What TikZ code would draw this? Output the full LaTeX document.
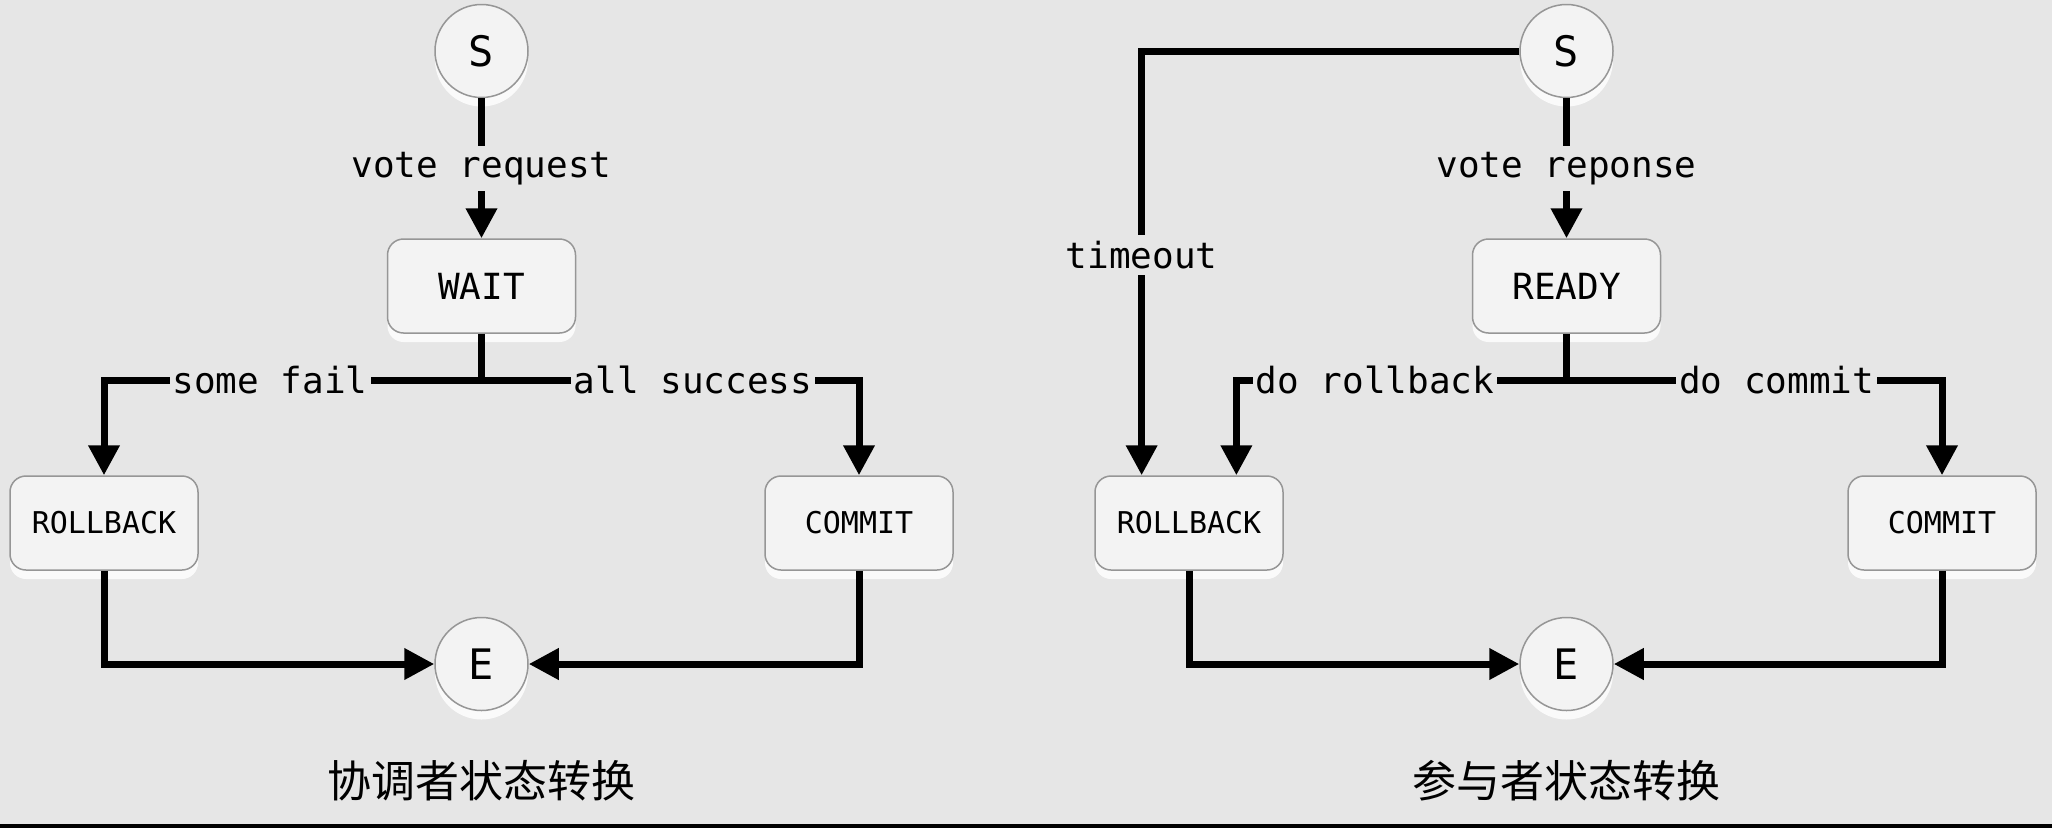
\documentclass[tikz,border=0pt]{standalone}
\usepackage{fontspec}
\setmonofont{DejaVu Sans Mono}
\newfontfamily\cjk{Noto Sans CJK SC}
\usetikzlibrary{arrows.meta,shadows,calc}
\definecolor{bgGray}{RGB}{230,230,230}
\definecolor{boxFill}{RGB}{243,243,243}
\definecolor{boxLine}{RGB}{150,150,150}

\begin{document}
\begin{tikzpicture}[x=1pt,y=-1pt,
	glow/.style={drop shadow={shadow xshift=0pt,shadow yshift=-9pt,fill=white,opacity=0.8}},
	state/.style={circle,draw=boxLine,line width=1.5pt,fill=boxFill,minimum size=93pt,inner sep=0pt,glow,font=\fontsize{42}{46}\selectfont\ttfamily},
	stage/.style={rectangle,rounded corners=16pt,draw=boxLine,line width=1.5pt,fill=boxFill,minimum width=188pt,minimum height=94pt,glow,font=\fontsize{36}{40}\selectfont\ttfamily},
	outcome/.style={stage,font=\fontsize{30}{34}\selectfont\ttfamily},
	flow/.style={line width=7pt,-{Triangle[length=30pt,width=30pt]}},
	tag/.style={fill=bgGray,inner xsep=3pt,inner ysep=6pt,font=\fontsize{36}{40}\selectfont\ttfamily},
	caption/.style={font=\cjk\fontsize{44}{48}\selectfont}]
			%%%%% START %%%%%
			
			\fill[bgGray] (0, 0) rectangle (2052, 828);
			\useasboundingbox (0, 0) rectangle (2052, 828);
			
			%% coordinator
			\node[state] (s1) at (481.5, 51) {S};
			\node[stage] (wait) at (481.5, 286) {WAIT};
			\node[outcome] (rb1) at (104, 523) {ROLLBACK};
			\node[outcome] (cm1) at (859, 523) {COMMIT};
			\node[state] (e1) at (481.5, 664) {E};
			\coordinate (j1) at (481.5, 380);
			\node[caption] (cap1) at (481.5, 781) {协调者状态转换};
			
			\draw[flow] (s1) -- node[tag] {vote request} (wait);
			\draw[line width=7pt] (wait) -- (j1);
			\draw[flow] (j1) -| node[tag, pos=0.28] {some fail} (rb1);
			\draw[flow] (j1) -| node[tag, pos=0.28] {all success} (cm1);
			\draw[flow] (rb1) |- (e1);
			\draw[flow] (cm1) |- (e1);
			
			%% participant
			\node[state] (s2) at (1566.5, 51) {S};
			\node[stage] (ready) at (1566.5, 286) {READY};
			\node[outcome] (rb2) at (1189, 523) {ROLLBACK};
			\node[outcome] (cm2) at (1942, 523) {COMMIT};
			\node[state] (e2) at (1566.5, 664) {E};
			\coordinate (j2) at (1566.5, 380);
			\node[caption] (cap2) at (1566.5, 781) {参与者状态转换};
			
			\draw[flow] (s2) -- node[tag] {vote reponse} (ready);
			\draw[flow] (s2) -| node[tag, pos=0.74] {timeout} ($(rb2.north west)!0.25!(rb2.north east)$);
			\draw[line width=7pt] (ready) -- (j2);
			\draw[flow] (j2) -| node[tag, pos=0.29] {do rollback} ($(rb2.north west)!0.75!(rb2.north east)$);
			\draw[flow] (j2) -| node[tag, pos=0.28] {do commit} (cm2);
			\draw[flow] (rb2) |- (e2);
			\draw[flow] (cm2) |- (e2);
			
			\fill[black] (0, 824) rectangle (2052, 828);
			
			%%%%% END %%%%%
		\end{tikzpicture}
\end{document}
